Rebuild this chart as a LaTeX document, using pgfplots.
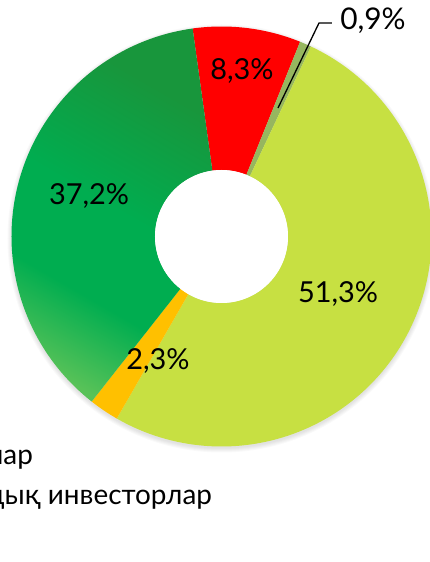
\documentclass[border=0pt]{standalone}
\usepackage{pgfplots}
\pgfplotsset{compat=1.18}
\usepackage{fontspec}
\setmainfont{Lato}
\definecolor{cRed}{RGB}{255,0,0}
\definecolor{cSliver}{RGB}{150,182,95}
\definecolor{cLight}{RGB}{199,224,66}
\definecolor{cOrange}{RGB}{255,192,0}
\definecolor{gTop}{RGB}{24,150,60}
\definecolor{gMid}{RGB}{0,173,80}
\definecolor{gBot}{RGB}{88,194,88}
\pgfdeclareverticalshading{gshade}{100bp}{color(0bp)=(gBot); color(25bp)=(gBot); color(38bp)=(gMid); color(52bp)=(gMid); color(72bp)=(gTop); color(100bp)=(gTop)}
\tikzset{
  sl/cRed/.style={fill=cRed},
  sl/cSliver/.style={fill=cSliver},
  sl/cLight/.style={fill=cLight},
  sl/cOrange/.style={fill=cOrange},
  sl/cGreen/.style={shading=gshade, shading angle=-30},
}
\begin{document}
\begin{tikzpicture}
\useasboundingbox (0,0) rectangle (430bp,562bp);
\clip (0,0) rectangle (430bp,562bp);
\begin{axis}[hide axis, scale only axis, width=430bp, height=562bp,
  xmin=0, xmax=430, ymin=0, ymax=562, clip=false,
  at={(0,0)}, anchor=south west]
\addplot[draw=none] coordinates {(0,0) (430,562)};
\pgfplotsextra{
  % soft shadow
  \foreach \i in {1,...,5}{
    \fill[black, opacity=0.025] ([yshift=-2bp]axis cs:221.5,325.5) circle[radius={(209+\i)*1bp}];
  }
  \xdef\s{97.9}
  % shares in percent, clockwise from the top
  \foreach \v/\c in {8.3/cRed, 0.9/cSliver, 51.3/cLight, 2.3/cOrange, 37.2/cGreen}{
    \pgfmathsetmacro\e{\s-3.6*\v}
    \path[sl/\c] ([shift={(\s:210bp)}]axis cs:221.5,325.5)
      arc[start angle=\s, end angle=\e, radius=210bp]
      -- ([shift={(\e:66.5bp)}]axis cs:221.5,325.5)
      arc[start angle=\e, end angle=\s, radius=66.5bp] -- cycle;
    \xdef\s{\e}
  }
  \fill[white] (axis cs:221.5,325.5) circle[radius=66.5bp];
}
\draw[black, line width=1.3bp] (axis cs:332,539) -- (axis cs:319,539) -- (axis cs:278,454);
\node[font=\fontsize{30}{32}\selectfont] at (axis cs:373,541) {0,9\%};
\node[font=\fontsize{29}{31}\selectfont] at (axis cs:242,491) {8,3\%};
\node[font=\fontsize{29}{31}\selectfont] at (axis cs:89,366) {37,2\%};
\node[font=\fontsize{29}{31}\selectfont] at (axis cs:158,201) {2,3\%};
\node[font=\fontsize{29}{31}\selectfont] at (axis cs:338,268) {51,3\%};
\node[font=\fontsize{28}{30}\selectfont, anchor=base east, inner sep=0] at (axis cs:33,97) {Бөлшек инвесторлар};
\node[font=\fontsize{28}{30}\selectfont, anchor=base east, inner sep=0] at (axis cs:212,57) {Институционалдық инвесторлар};
\end{axis}
\end{tikzpicture}
\end{document}
